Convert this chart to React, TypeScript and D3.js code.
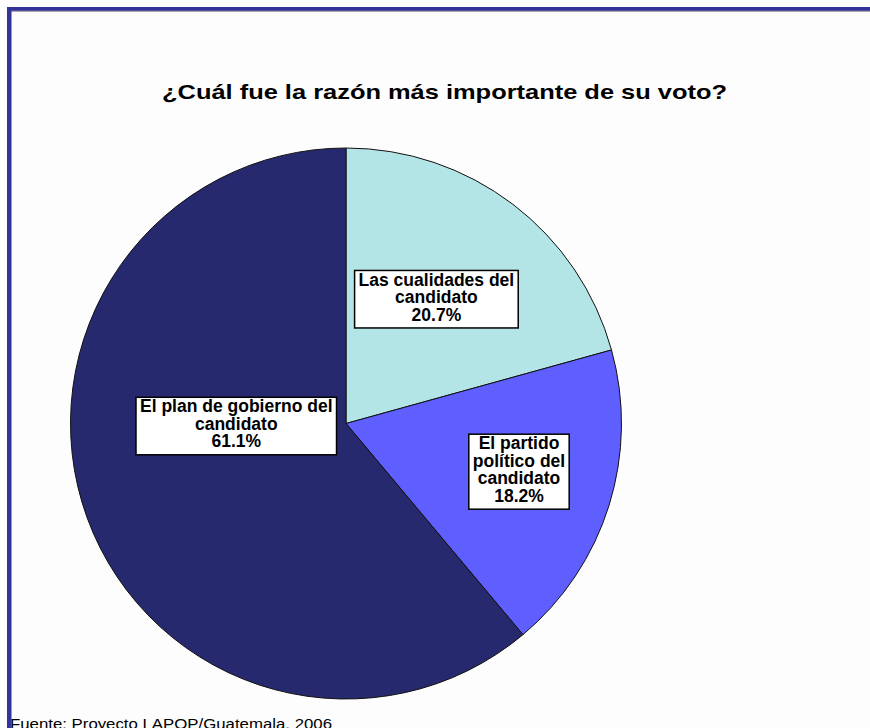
import React, { useEffect, useRef } from 'react'
import * as d3 from 'd3'

// data, clockwise from 12 o'clock
const categories = [
    'Las cualidades del candidato',
    'El partido político del candidato',
    'El plan de gobierno del candidato'
]
const categoryLines = [
    ['Las cualidades del', 'candidato'],
    ['El partido', 'político del', 'candidato'],
    ['El plan de gobierno del', 'candidato']
]
const values = [20.7, 18.2, 61.1]
const title = '¿Cuál fue la razón más importante de su voto?'
const source = 'Fuente: Proyecto LAPOP/Guatemala, 2006'

const W = 870
const H = 728
const colors = ['#B3E5E6', '#5F5FFF', '#27296E']
const font = '"Liberation Sans", Arial, sans-serif'

// label placement: centroid radius factor + small nudge (Excel "best fit")
const labelRadius = [0.56, 0.65, 0.42]
const labelNudge = [
    [-3, -1.5],
    [2, -5],
    [-1, -37]
]

const App: React.FC = () => {
    const ref = useRef<SVGSVGElement>(null)
    useEffect(() => {
        const svg = d3.select(ref.current)
        svg.selectAll('*').remove()

        svg.append('rect')
            .attr('width', W)
            .attr('height', H)
            .attr('fill', '#FDFDFD')

        const cx = 346
        const cy = 423.5
        const r = 275.5

        const pie = d3
            .pie<number>()
            .sort(null)
            .value((d) => d)
        const arcs = pie(values)
        const arc = d3.arc<d3.PieArcDatum<number>>().innerRadius(0).outerRadius(r)

        const g = svg.append('g').attr('transform', `translate(${cx},${cy})`)
        g.selectAll('path')
            .data(arcs)
            .join('path')
            .attr('d', arc as any)
            .attr('fill', (d, i) => colors[i])
            .attr('stroke', '#111')
            .attr('stroke-width', 1)

        // labels
        const lh = 17.5
        arcs.forEach((a, i) => {
            const lr = r * labelRadius[i]
            const c = d3
                .arc<d3.PieArcDatum<number>>()
                .innerRadius(lr)
                .outerRadius(lr)
                .centroid(a)
            const x = c[0] + labelNudge[i][0]
            const y = c[1] + labelNudge[i][1]
            const lines = [...categoryLines[i], `${values[i].toFixed(1)}%`]
            const lg = g.append('g').attr('transform', `translate(${x},${y})`)
            const box = lg.append('rect')
            const t = lg
                .append('text')
                .attr('text-anchor', 'middle')
                .attr('font-family', font)
                .attr('font-weight', 'bold')
                .attr('font-size', 17.5)
                .attr('fill', '#000')
            const top = -(lines.length * lh) / 2
            lines.forEach((ln, j) => {
                t.append('tspan')
                    .attr('x', 0)
                    .attr('y', top + lh * j + lh * 0.72)
                    .text(ln)
            })
            const bb = (t.node() as SVGTextElement).getBBox()
            const bw = bb.width + 8
            const bh = lines.length * lh + 5
            box.attr('x', -bw / 2)
                .attr('y', -bh / 2)
                .attr('width', bw)
                .attr('height', bh)
                .attr('fill', '#fff')
                .attr('stroke', '#000')
                .attr('stroke-width', 1.5)
        })

        svg.append('text')
            .attr('x', 444.5)
            .attr('y', 99)
            .attr('text-anchor', 'middle')
            .attr('font-family', font)
            .attr('font-weight', 'bold')
            .attr('font-size', 20.5)
            .attr('textLength', 565)
            .attr('lengthAdjust', 'spacingAndGlyphs')
            .attr('fill', '#000')
            .text(title)

        svg.append('text')
            .attr('x', 10)
            .attr('y', 729)
            .attr('font-family', font)
            .attr('font-size', 15.5)
            .attr('textLength', 322)
            .attr('lengthAdjust', 'spacingAndGlyphs')
            .attr('fill', '#000')
            .text(source)

        // frame
        svg.append('rect')
            .attr('x', 7)
            .attr('y', 10.5)
            .attr('width', W)
            .attr('height', 1.5)
            .attr('fill', '#A8A8A8')
        svg.append('rect')
            .attr('x', 7)
            .attr('y', 7)
            .attr('width', W)
            .attr('height', 3.8)
            .attr('fill', '#333399')
        svg.append('rect')
            .attr('x', 7)
            .attr('y', 7)
            .attr('width', 4.5)
            .attr('height', H)
            .attr('fill', '#333399')
    }, [])
    return (
        <svg
            ref={ref}
            width={W}
            height={H}
            viewBox={`0 0 ${W} ${H}`}
            style={{ position: 'absolute', left: 0, top: 0 }}
            aria-label={categories.join(', ')}
        />
    )
}

export default App
